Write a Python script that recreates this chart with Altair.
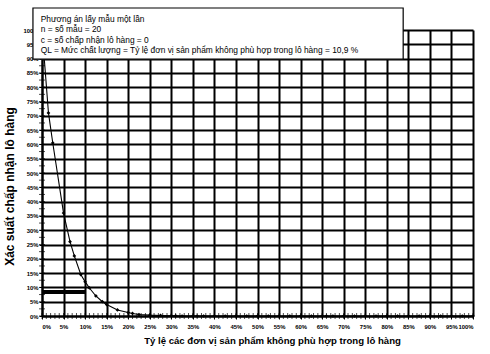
import altair as alt
import pandas as pd

# OC curve points (defect %, acceptance %)
p_def = [0, 0.5, 1.5, 2.5, 5, 6.5, 7.5, 9, 10, 11, 12.5, 14, 15, 17.5, 20, 21, 22.5, 25,
         27.5, 30, 31, 32.5, 35, 36, 37.5, 40, 42.5, 45, 47.5, 50, 52.5, 55, 57.5, 60,
         62.5, 65, 66, 67.5, 70, 72.5, 75, 77.5, 80, 82.5, 85, 87.5, 90, 92.5, 95, 97.5, 100]
p_acc = [100, 90.5, 71, 60.5, 36, 26, 21, 14.5, 12, 9.8, 7, 5, 4, 2.1, 1.2, 0.9, 0.5, 0.3,
         0.2, 0.1, 0.05, 0, 0, 0, 0, 0, 0, 0, 0, 0, 0, 0, 0, 0,
         0, 0, 0, 0, 0, 0, 0, 0, 0, 0, 0, 0, 0, 0, 0, 0, 0]

tick_vals = list(range(0, 101, 5))
x_minor = list(range(0, 101, 1))
y_minor = [v * 2.5 for v in range(0, 41)]

bar_x = [0]
bar_x2 = [10]
bar_y = [8.4]

legend_lines = [
    "Phương án lấy mẫu một lần",
    "n = số mẫu = 20",
    "c = số chấp nhận lô hàng = 0",
    "QL = Mức chất lượng = Tỷ lệ đơn vị sản phẩm không phù hợp trong lô hàng = 10,9 %",
]
legend_y = [103.8, 100.3, 96.5, 93.0]

FONT = "Liberation Sans"

xs = alt.Scale(domain=[0, 100], nice=False)
ys = alt.Scale(domain=[0, 100], nice=False)

xaxis = alt.Axis(values=tick_vals, labelExpr="datum.value + '%'", labelOverlap=False,
                 title="Tỷ lệ các đơn vị sản phẩm không phù hợp trong lô hàng",
                 grid=True, gridColor="black", gridWidth=2, gridOpacity=1,
                 domainColor="black", domainWidth=2, tickColor="black",
                 tickSize=3, labelFontSize=5.9, labelFontWeight="bold",
                 labelColor="black", labelFont=FONT, labelPadding=4,
                 titleFont=FONT, titleFontSize=9.6, titleFontWeight="bold",
                 titleColor="black", titlePadding=7, titleX=230)
yaxis = alt.Axis(values=tick_vals, labelExpr="datum.value + '%'", labelOverlap=False,
                 title="Xác suất chấp nhận lô hàng",
                 grid=True, gridColor="black", gridWidth=2, gridOpacity=1,
                 domainColor="black", domainWidth=2, tickColor="black",
                 tickSize=3, labelFontSize=5.9, labelFontWeight="bold",
                 labelColor="black", labelFont=FONT, labelPadding=1,
                 titleFont=FONT, titleFontSize=12, titleFontWeight="bold",
                 titleColor="black", titlePadding=6, titleY=156)


def X(f):
    return alt.X(f, scale=xs, axis=xaxis)


def Y(f):
    return alt.Y(f, scale=ys, axis=yaxis)


df = pd.DataFrame({"p": p_def, "pa": p_acc})
base = alt.Chart(df)

curve = base.mark_line(color="black", strokeWidth=1.1, clip=False).encode(x=X("p:Q"), y=Y("pa:Q"))

pts = base.mark_point(shape="diamond", filled=True, color="black", size=14, opacity=1).encode(
    x=X("p:Q"), y=Y("pa:Q"))

xm = alt.Chart(pd.DataFrame({"p": x_minor, "pa": [0] * len(x_minor)})).mark_tick(
    orient="vertical", color="black", size=6, thickness=1).encode(x=X("p:Q"), y=Y("pa:Q"))

ym = alt.Chart(pd.DataFrame({"p": [0] * len(y_minor), "pa": y_minor})).mark_tick(
    orient="horizontal", color="black", size=6, thickness=1).encode(x=X("p:Q"), y=Y("pa:Q"))

bar = alt.Chart(pd.DataFrame({"p": bar_x, "p2": bar_x2, "pa": bar_y})).mark_rule(
    color="black", strokeWidth=4).encode(x=X("p:Q"), x2="p2:Q", y=Y("pa:Q"))

box_df = pd.DataFrame({"p": [-2.1], "p2": [83.8], "pa": [89.8], "pa2": [107.7]})
box = alt.Chart(box_df).mark_rect(fill="white", stroke="black", strokeWidth=1.2, clip=False).encode(
    x=X("p:Q"), x2="p2:Q", y=Y("pa:Q"), y2="pa2:Q")

txt = alt.Chart(pd.DataFrame({"p": [-0.3] * 4, "pa": legend_y, "t": legend_lines})).mark_text(
    align="left", baseline="middle", font=FONT, fontSize=8.4, color="black", clip=False).encode(
    x=X("p:Q"), y=Y("pa:Q"), text="t:N")

chart = alt.layer(curve, pts, xm, ym, bar, box, txt).properties(
    width=431, height=286,
    autosize=alt.AutoSizeParams(type="none"),
    padding={"left": 42, "top": 30, "right": 17, "bottom": 38},
    background="white",
).configure_view(stroke=None)

chart.save("out.html", embed_options={"renderer": "svg", "actions": False})
